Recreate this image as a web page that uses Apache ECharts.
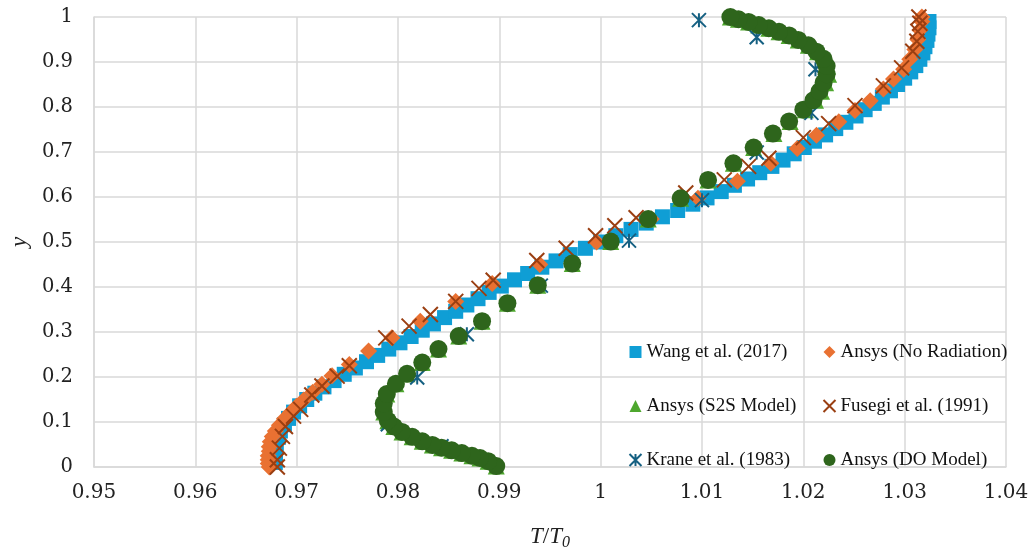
<!DOCTYPE html>
<html>
<head>
<meta charset="utf-8">
<script src="https://cdn.jsdelivr.net/npm/echarts@6/dist/echarts.min.js"></script>
<style>
html, body { margin: 0; padding: 0; background: #fff; }
#chart { width: 1035px; height: 556px; }
</style>
</head>
<body>
<div id="chart"></div>
<script>
// [T/T0, y] pairs
var wang = [
	[0.9679,0.010],[0.9679,0.024],[0.9679,0.038],[0.9680,0.052],[0.9682,0.066],[0.9684,0.080],
	[0.9688,0.094],[0.9692,0.108],[0.9697,0.122],[0.9703,0.136],[0.9710,0.150],[0.9718,0.164],
	[0.9727,0.178],[0.9737,0.192],[0.9747,0.206],[0.9758,0.220],[0.9769,0.234],[0.9780,0.248],
	[0.9791,0.262],[0.9802,0.276],[0.9813,0.290],[0.9824,0.304],[0.9835,0.318],[0.9846,0.332],
	[0.9857,0.346],[0.9868,0.360],[0.9879,0.374],[0.9890,0.388],[0.9902,0.402],[0.9915,0.416],
	[0.9928,0.430],[0.9942,0.444],[0.9956,0.458],[0.9970,0.472],[0.9985,0.486],[1.0000,0.500],
	[1.0015,0.514],[1.0030,0.528],[1.0045,0.542],[1.0061,0.556],[1.0076,0.570],[1.0091,0.584],
	[1.0105,0.598],[1.0119,0.612],[1.0132,0.626],[1.0145,0.640],[1.0157,0.654],[1.0169,0.668],
	[1.0180,0.682],[1.0191,0.696],[1.0201,0.710],[1.0211,0.724],[1.0222,0.738],[1.0232,0.752],
	[1.0242,0.766],[1.0252,0.780],[1.0261,0.794],[1.0270,0.808],[1.0278,0.822],[1.0286,0.836],
	[1.0293,0.850],[1.0300,0.864],[1.0306,0.878],[1.0311,0.892],[1.0315,0.906],[1.0318,0.920],
	[1.0320,0.934],[1.0322,0.948],[1.0323,0.962],[1.0324,0.976],[1.0324,0.990]
];
var noRadiation = [
	[0.9673,0.000],[0.9672,0.008],[0.9672,0.016],[0.9672,0.025],[0.9673,0.035],[0.9673,0.045],
	[0.9674,0.056],[0.9676,0.068],[0.9679,0.080],[0.9683,0.093],[0.9688,0.107],[0.9694,0.121],
	[0.9700,0.135],[0.9707,0.149],[0.9716,0.166],[0.9725,0.184],[0.9735,0.203],[0.9752,0.228],
	[0.9771,0.258],[0.9794,0.287],[0.9822,0.324],[0.9857,0.368],[0.9893,0.408],[0.9940,0.450],
	[0.9996,0.500],[1.0050,0.551],[1.0096,0.597],[1.0135,0.635],[1.0168,0.675],[1.0194,0.708],
	[1.0213,0.737],[1.0235,0.767],[1.0251,0.792],[1.0266,0.814],[1.0279,0.840],[1.0289,0.862],
	[1.0299,0.884],[1.0305,0.906],[1.0310,0.928],[1.0313,0.950],[1.0315,0.971],[1.0317,0.990],
	[1.0317,1.000]
];
var s2s = [
	[0.9897,0.002],[0.9889,0.013],[0.9881,0.020],[0.9873,0.025],[0.9863,0.031],[0.9853,0.037],
	[0.9843,0.043],[0.9834,0.049],[0.9824,0.057],[0.9814,0.067],[0.9804,0.078],[0.9796,0.090],
	[0.9790,0.103],[0.9786,0.122],[0.9786,0.141],[0.9789,0.162],[0.9798,0.185],[0.9809,0.207],
	[0.9824,0.232],[0.9840,0.262],[0.9860,0.291],[0.9883,0.324],[0.9908,0.364],[0.9938,0.404],
	[0.9972,0.452],[1.0010,0.501],[1.0047,0.551],[1.0079,0.597],[1.0106,0.638],[1.0131,0.675],
	[1.0151,0.710],[1.0171,0.741],[1.0187,0.768],[1.0202,0.794],[1.0212,0.815],[1.0218,0.835],
	[1.0222,0.854],[1.0225,0.873],[1.0224,0.891],[1.0221,0.907],[1.0214,0.923],[1.0205,0.937],
	[1.0195,0.949],[1.0186,0.959],[1.0176,0.967],[1.0166,0.975],[1.0156,0.982],[1.0146,0.989],
	[1.0136,0.995],[1.0128,1.000]
];
var fusegi = [
	[0.9681,0.000],[0.9681,0.016],[0.9683,0.042],[0.9686,0.068],[0.9689,0.090],[0.9697,0.113],
	[0.9704,0.128],[0.9715,0.160],[0.9725,0.180],[0.9740,0.202],[0.9752,0.225],[0.9788,0.287],
	[0.9811,0.313],[0.9832,0.339],[0.9857,0.368],[0.9880,0.397],[0.9894,0.415],[0.9937,0.459],
	[0.9966,0.486],[0.9995,0.514],[1.0014,0.536],[1.0035,0.554],[1.0084,0.609],[1.0122,0.638],
	[1.0146,0.668],[1.0166,0.686],[1.0200,0.732],[1.0225,0.763],[1.0251,0.803],[1.0279,0.847],
	[1.0297,0.887],[1.0308,0.924],[1.0312,0.946],[1.0313,0.968],[1.0315,0.986],[1.0314,1.000]
];
var krane = [
	[0.9843,0.046],[0.9790,0.095],[0.9819,0.199],[0.9868,0.295],[0.9941,0.403],[1.0028,0.503],
	[1.0100,0.593],[1.0154,0.699],[1.0208,0.787],[1.0212,0.884],[1.0154,0.955],[1.0097,0.993]
];
var doModel = [
	[0.9897,0.002],[0.9889,0.013],[0.9881,0.020],[0.9873,0.025],[0.9863,0.031],[0.9853,0.037],
	[0.9843,0.043],[0.9834,0.049],[0.9824,0.057],[0.9814,0.067],[0.9804,0.078],[0.9796,0.090],
	[0.9790,0.103],[0.9786,0.122],[0.9786,0.141],[0.9789,0.162],[0.9798,0.185],[0.9809,0.207],
	[0.9824,0.232],[0.9840,0.262],[0.9860,0.291],[0.9883,0.324],[0.9908,0.364],[0.9938,0.404],
	[0.9972,0.452],[1.0010,0.501],[1.0047,0.551],[1.0079,0.597],[1.0106,0.638],[1.0131,0.675],
	[1.0151,0.710],[1.0170,0.741],[1.0186,0.768],[1.0200,0.794],[1.0210,0.815],[1.0216,0.835],
	[1.0220,0.854],[1.0223,0.873],[1.0223,0.891],[1.0220,0.907],[1.0213,0.923],[1.0205,0.937],
	[1.0195,0.949],[1.0186,0.959],[1.0176,0.967],[1.0166,0.975],[1.0156,0.982],[1.0146,0.989],
	[1.0136,0.995],[1.0128,1.000]
];
var seriesNames = ['Wang et al. (2017)', 'Ansys (No Radiation)', 'Ansys (S2S Model)',
	'Fusegi et al. (1991)', 'Krane et al. (1983)', 'Ansys (DO Model)'];

var crossPath = 'path://M0,0L10,10M10,0L0,10';
var starPath = 'path://M0,0L10,10M10,0L0,10M5,0L5,10';
var gridColor = '#d9d9d9';
var serif = '"Liberation Serif", "DejaVu Serif", serif';

var chart = echarts.init(document.getElementById('chart'));

var legendText = { fontFamily: serif, fontSize: 19, color: '#111', lineHeight: 20 };

chart.setOption({
	animation: false,
	backgroundColor: '#fff',
	grid: { left: 90, right: 29, top: 17, bottom: 83.5 },
	legend: [{
		data: [seriesNames[0], seriesNames[2], seriesNames[4]],
		orient: 'vertical', left: 627, top: 342, padding: 0,
		itemWidth: 12, itemHeight: 12, itemGap: 34,
		textStyle: legendText
	}, {
		data: [seriesNames[1], seriesNames[3], seriesNames[5]],
		orient: 'vertical', left: 821, top: 342, padding: 0,
		itemWidth: 12, itemHeight: 12, itemGap: 34,
		textStyle: legendText
	}],
	xAxis: {
		type: 'value', min: 0.95, max: 1.04, interval: 0.01,
		name: '{a|T}{b|/}{a|T}{s|0}',
		nameLocation: 'middle', nameGap: 56,
		nameTextStyle: {
			rich: {
				a: { fontFamily: serif, fontStyle: 'italic', fontSize: 23, color: '#222' },
				b: { fontFamily: serif, fontSize: 23, color: '#222' },
				s: { fontFamily: serif, fontStyle: 'italic', fontSize: 16, color: '#222', padding: [12, 0, 0, 0] }
			}
		},
		axisLine: { lineStyle: { color: gridColor, width: 1.5 } },
		axisTick: { show: false },
		splitLine: { lineStyle: { color: gridColor, width: 1.5 } },
		axisLabel: { fontFamily: '"DejaVu Serif", serif', fontSize: 20, color: '#222', margin: 16 }
	},
	yAxis: {
		type: 'value', min: 0, max: 1, interval: 0.1,
		name: 'y', nameLocation: 'middle', nameGap: 62,
		nameTextStyle: { fontFamily: serif, fontStyle: 'italic', fontSize: 23, color: '#222' },
		axisLine: { show: true, lineStyle: { color: gridColor, width: 1.5 } },
		axisTick: { show: false },
		splitLine: { lineStyle: { color: gridColor, width: 1.5 } },
		axisLabel: { fontFamily: '"DejaVu Serif", serif', fontSize: 19.5, color: '#222', margin: 21 }
	},
	series: [{
		name: seriesNames[0], type: 'scatter', data: wang,
		symbol: 'rect', symbolSize: 15,
		itemStyle: { color: '#0f9ed5', opacity: 1 }
	}, {
		name: seriesNames[1], type: 'scatter', data: noRadiation,
		symbol: 'diamond', symbolSize: 17,
		itemStyle: { color: '#e97132', opacity: 1 }
	}, {
		name: seriesNames[2], type: 'scatter', data: s2s,
		symbol: 'triangle', symbolSize: 17,
		itemStyle: { color: '#4ea72e', opacity: 1 }
	}, {
		name: seriesNames[3], type: 'scatter', data: fusegi,
		symbol: crossPath, symbolSize: 15,
		itemStyle: { color: 'none', borderColor: '#9a3f12', borderWidth: 2, opacity: 1 }
	}, {
		name: seriesNames[4], type: 'scatter', data: krane,
		symbol: starPath, symbolSize: 14,
		itemStyle: { color: 'none', borderColor: '#156082', borderWidth: 2, opacity: 1 }
	}, {
		name: seriesNames[5], type: 'scatter', data: doModel,
		symbol: 'circle', symbolSize: 18,
		itemStyle: { color: '#2e651c', opacity: 1 }
	}]
});
</script>
</body>
</html>
